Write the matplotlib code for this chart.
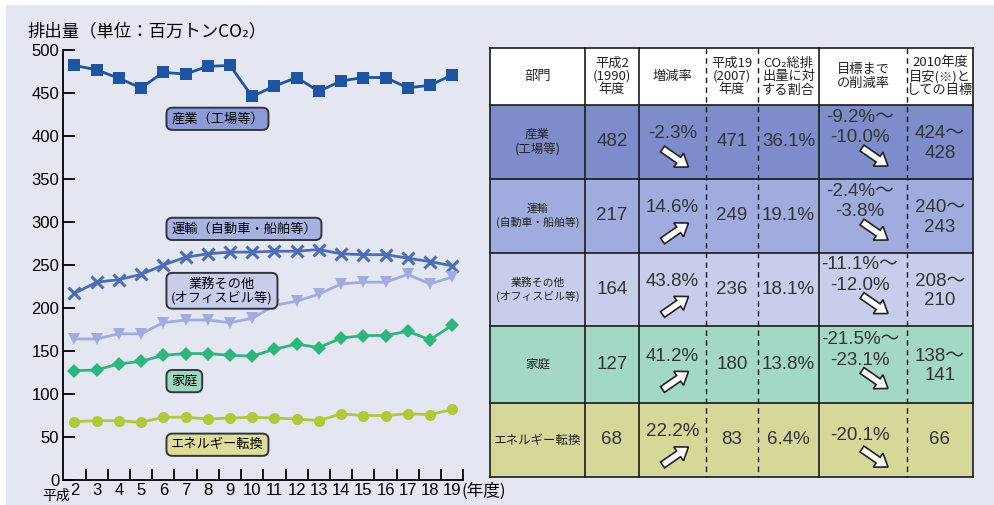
import matplotlib
matplotlib.use("Agg")
import matplotlib.pyplot as plt
from matplotlib.patches import Rectangle, FancyArrow
import numpy as np

# ---------------- data ----------------
era_prefix = '平成'
years = ['2', '3', '4', '5', '6', '7', '8', '9', '10', '11', '12', '13',
         '14', '15', '16', '17', '18', '19']
industry = [482, 477, 467, 456, 474, 472, 481, 482, 446, 458, 468, 452, 464, 468, 468, 456, 459, 471]
transport = [217, 230, 233, 239, 250, 259, 263, 265, 265, 266, 266, 268, 263, 262, 262, 258, 254, 249]
commercial = [164, 164, 170, 170, 183, 186, 186, 183, 188, 203, 208, 216, 228, 230, 230, 239, 228, 236]
residential = [127, 128, 135, 138, 145, 147, 147, 145, 144, 152, 158, 154, 165, 168, 168, 173, 163, 180]
energy = [68, 69, 69, 67, 73, 73, 71, 72, 73, 72, 71, 69, 77, 75, 75, 77, 76, 82]

series_labels = ['産業（工場等）', '運輸（自動車・船舶等）', '業務その他\n(オフィスビル等)', '家庭', 'エネルギー転換']

table_headers = ['部門', '平成2\n(1990)\n年度', '増減率', '平成19\n(2007)\n年度',
                 'CO₂総排\n出量に対\nする割合', '目標まで\nの削減率', '2010年度\n目安(※)と\nしての目標']
sectors = ['産業\n(工場等)', '運輸\n(自動車・船舶等)', '業務その他\n(オフィスビル等)', '家庭', 'エネルギー転換']
fy1990 = ['482', '217', '164', '127', '68']
change_rate = ['-2.3%', '14.6%', '43.8%', '41.2%', '22.2%']
fy2007 = ['471', '249', '236', '180', '83']
share = ['36.1%', '19.1%', '18.1%', '13.8%', '6.4%']
reduction = ['-9.2%〜\n-10.0%', '-2.4%〜\n-3.8%', '-11.1%〜\n-12.0%', '-21.5%〜\n-23.1%', '-20.1%']
target2010 = ['424〜\n428', '240〜\n243', '208〜\n210', '138〜\n141', '66']

# ---------------- styles ----------------
BG = '#e4e6f2'
JP = ['Noto Sans CJK JP', 'DejaVu Sans']
NUM = ['Liberation Sans', 'Noto Sans CJK JP', 'DejaVu Sans']
line_colors = ['#1f55a0', '#4d6db4', '#a2abdf', '#2fb57c', '#b3c73c']
markers = ['s', 'x', 'v', 'D', 'o']
msizes = [8, 8, 9, 7, 8]
box_colors = ['#8c9bd6', '#a6b2e0', '#c9cdeb', '#9cd8bd', '#dcdd98']
box_y = [420, 292, 220, 115, 41]
row_colors = ['#7d8dcc', '#a0acde', '#c8cdec', '#a2d8c4', '#d6d89a']

plt.rcParams['font.family'] = NUM

fig = plt.figure(figsize=(9.95, 5.05), dpi=100)
fig.patch.set_facecolor('white')

# pixel-coordinate background axes (also holds the table)
pa = fig.add_axes([0, 0, 1, 1], zorder=0)
pa.set_xlim(0, 995)
pa.set_ylim(505, 0)
pa.axis('off')
pa.add_patch(Rectangle((6, 5), 995, 505, facecolor=BG, edgecolor='none', zorder=0))

# ---------------- line chart ----------------
ax = fig.add_axes([63.3 / 995, 25 / 505, 400 / 995, 430 / 505], zorder=1)
ax.set_facecolor('none')
x = np.arange(len(years))
all_series = [industry, transport, commercial, residential, energy]
for vals, c, m, ms in zip(all_series, line_colors, markers, msizes):
    kw = dict(markeredgewidth=2.2) if m == 'x' else dict(markeredgewidth=0)
    ax.plot(x, vals, color=c, lw=2.0, marker=m, markersize=ms, zorder=3, **kw)

ax.set_xlim(-0.5, len(years) - 0.5)
ax.set_ylim(0, 500)
ax.set_yticks(np.arange(0, 501, 50))
ax.set_yticklabels([str(v) for v in range(0, 501, 50)], fontsize=12)
ax.set_xticks(x)
ax.set_xticklabels(years, fontsize=12)
ax.set_xticks(np.arange(0.5, len(years) - 0.4, 1), minor=True)
ax.tick_params(axis='x', which='major', length=0, pad=2)
ax.tick_params(axis='x', which='minor', direction='in', length=8, width=1.3)
ax.tick_params(axis='y', direction='in', length=8.5, width=1.3, pad=3)
for s in ['top', 'right']:
    ax.spines[s].set_visible(False)
for s in ['left', 'bottom']:
    ax.spines[s].set_linewidth(1.3)
ax.annotate('(年度)', xy=(len(years) - 1 + 0.42, 0), xycoords=('data', 'axes fraction'),
            xytext=(0, -2), textcoords='offset points', ha='left', va='top',
            fontsize=12, family=JP, annotation_clip=False)
ax.annotate(era_prefix, xy=(-0.22, 0), xycoords=('data', 'axes fraction'),
            xytext=(0, -6.5), textcoords='offset points', ha='right', va='top',
            fontsize=10, family=JP, annotation_clip=False)

for lab, fc, yv in zip(series_labels, box_colors, box_y):
    ax.text(4.35, yv, lab, ha='left', va='center', fontsize=9.5, family=JP,
            multialignment='center', linespacing=1.0, zorder=4,
            bbox=dict(boxstyle='round,pad=0.35,rounding_size=0.45', fc=fc, ec='#333340', lw=1.4))

pa.text(27, 31, '排出量（単位：百万トンCO₂）', ha='left', va='center', fontsize=12.5, family=JP)

# ---------------- table ----------------
col_edges = [490, 585, 639, 706, 758, 819, 907, 973]
row_edges = [48, 105, 179, 253, 326, 403, 477]
dashed_cols = {3, 4, 6}

for i, rc in enumerate(row_colors):
    pa.add_patch(Rectangle((col_edges[0], row_edges[i + 1]), col_edges[-1] - col_edges[0],
                           row_edges[i + 2] - row_edges[i + 1], fc=rc, ec='none', zorder=1))
pa.add_patch(Rectangle((col_edges[0], row_edges[0]), col_edges[-1] - col_edges[0],
                       row_edges[1] - row_edges[0], fc='white', ec='none', zorder=1))
for yv in row_edges:
    pa.plot([col_edges[0], col_edges[-1]], [yv, yv], color='#1a1a1a', lw=1.2, zorder=3)
for j, xv in enumerate(col_edges):
    if j in dashed_cols:
        pa.plot([xv, xv], [row_edges[0], row_edges[-1]], color='#1a1a1a', lw=1.0,
                ls=(0, (4, 3)), zorder=3)
    else:
        pa.plot([xv, xv], [row_edges[0], row_edges[-1]], color='#1a1a1a', lw=1.2, zorder=3)

centers = [(col_edges[j] + col_edges[j + 1]) / 2 for j in range(len(col_edges) - 1)]
hy = (row_edges[0] + row_edges[1]) / 2
for j, h in enumerate(table_headers):
    pa.text(centers[j], hy, h, ha='center', va='center', fontsize=9.5, family=JP,
            linespacing=1.05, zorder=4, color='#222222')


def arrow(cx, cy, down):
    dy = 9 if down else -9
    pa.add_patch(FancyArrow(cx - 13, cy - dy, 26, 2 * dy, width=7, head_width=17,
                            head_length=12, length_includes_head=True,
                            fc='white', ec='#222222', lw=1.2, zorder=5))


def lines(cx, ys, txt, fs=13.5):
    for yy, t in zip(ys, txt.split('\n')):
        pa.text(cx, yy, t, ha='center', va='center', fontsize=fs, family=NUM,
                zorder=4, color='#333333')


for i in range(len(sectors)):
    c = (row_edges[i + 1] + row_edges[i + 2]) / 2
    sfs = 7.8 if i in (1, 2) else 9
    pa.text(centers[0], c, sectors[i], ha='center', va='center', fontsize=sfs, family=JP,
            linespacing=1.25, zorder=4, color='#222222')
    lines(centers[1], [c], fy1990[i])
    lines(centers[2], [c - 8], change_rate[i])
    arrow(centers[2] + 3, c + 16, change_rate[i].startswith('-'))
    lines(centers[3], [c], fy2007[i])
    lines(centers[4], [c], share[i])
    if '\n' in reduction[i]:
        lines(centers[5] - 3, [c - 25, c - 4], reduction[i])
        arrow(centers[5] + 12, c + 15, True)
    else:
        lines(centers[5] - 3, [c - 5], reduction[i])
        arrow(centers[5] + 12, c + 18, True)
    if '\n' in target2010[i]:
        lines(centers[6], [c - 8, c + 11], target2010[i])
    else:
        lines(centers[6], [c], target2010[i])

fig.savefig('out.png', dpi=100, facecolor=fig.get_facecolor())
